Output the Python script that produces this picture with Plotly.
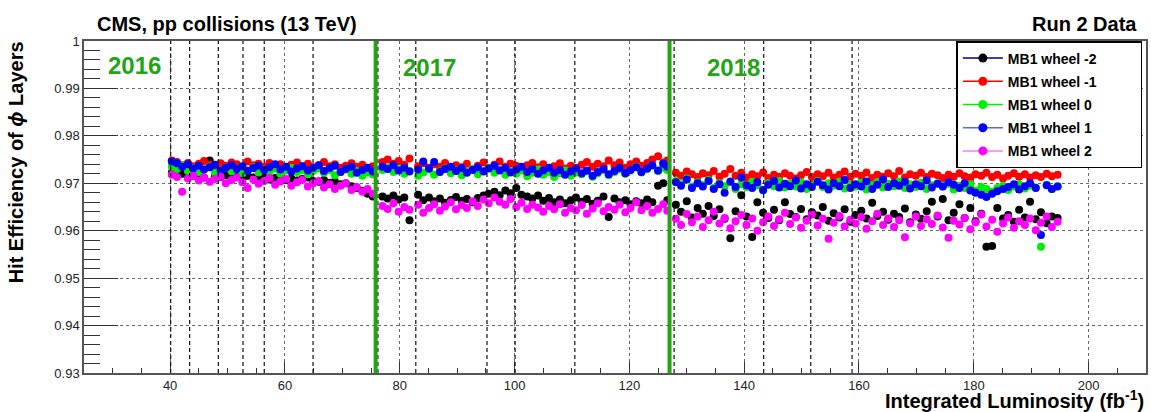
import plotly.graph_objects as go

# integrated luminosity of each run block (fb^-1), per data-taking year
lumi_2016 = [40.3, 41.2, 42.1, 43.1, 44.0, 45.0, 45.9, 46.9, 47.8, 48.8, 49.7, 50.7, 51.6, 52.6, 53.5,
             54.5, 55.4, 56.4, 57.3, 58.3, 59.2, 60.2, 61.1, 62.1, 63.0, 64.0, 64.9, 65.9, 66.8, 67.8,
             68.7, 69.7, 70.6, 71.6, 72.5, 73.5, 74.4, 75.3]
lumi_2017 = [77.0, 77.9, 78.9, 79.8, 80.8, 81.7, 83.2, 84.1, 85.1, 86.0, 87.0, 87.9, 88.9, 89.8, 90.8,
             91.7, 92.7, 93.6, 94.6, 95.5, 96.5, 97.4, 98.4, 99.3, 100.3, 101.2, 102.2, 103.1, 104.1,
             105.0, 106.0, 106.9, 107.9, 108.8, 109.8, 110.7, 111.7, 112.6, 113.6, 114.5, 115.5, 116.4,
             117.4, 118.3, 119.3, 120.2, 121.2, 122.1, 123.1, 124.0, 125.0, 125.9, 126.6]
lumi_2018 = [128.1, 129.0, 130.0, 130.9, 131.9, 132.8, 133.8, 134.7, 135.7, 136.6, 137.6, 138.5, 139.5,
             140.4, 141.4, 142.3, 143.3, 144.2, 145.2, 146.1, 147.1, 148.0, 149.0, 149.9, 150.9, 151.8,
             152.8, 153.7, 154.7, 155.6, 156.6, 157.5, 158.5, 159.4, 160.4, 161.3, 162.3, 163.2, 164.2,
             165.1, 166.1, 167.0, 168.0, 168.9, 169.9, 170.8, 171.8, 172.7, 173.7, 174.6, 175.6, 176.5,
             177.5, 178.4, 179.4, 180.3, 181.3, 182.2, 183.2, 184.1, 185.1, 186.0, 187.0, 187.9, 188.9,
             189.8, 190.8, 191.7, 192.7, 193.6, 194.6]

# MB1 wheel -2
wm2_2016 = [0.9722, 0.9718, 0.9720, 0.9714, 0.9716, 0.9719, 0.9712, 0.9748, 0.9715, 0.9713,
            0.9717, 0.9711, 0.9714, 0.9709, 0.9716, 0.9712, 0.9710, 0.9713, 0.9708, 0.9711,
            0.9714, 0.9707, 0.9710, 0.9706, 0.9709, 0.9712, 0.9705, 0.9703, 0.9707, 0.9701,
            0.9704, 0.9698, 0.9700, 0.9694, 0.9690, 0.9684, 0.9678, 0.9672]
wm2_2017 = [0.9672, 0.9668, 0.9674, 0.9666, 0.9670, 0.9622, 0.9676, 0.9664, 0.9670, 0.9662,
            0.9668, 0.9659, 0.9665, 0.9671, 0.9663, 0.9667, 0.9660, 0.9669, 0.9674, 0.9678,
            0.9682, 0.9675, 0.9685, 0.9679, 0.9690, 0.9676, 0.9672, 0.9668, 0.9674, 0.9663,
            0.9669, 0.9660, 0.9666, 0.9658, 0.9664, 0.9670, 0.9661, 0.9667, 0.9657, 0.9663,
            0.9672, 0.9629, 0.9668, 0.9660, 0.9664, 0.9656, 0.9662, 0.9658, 0.9666, 0.9660,
            0.9695, 0.9700, 0.9664]
wm2_2018 = [0.9655, 0.9640, 0.9662, 0.9628, 0.9648, 0.9636, 0.9652, 0.9631, 0.9645, 0.9625,
            0.9584, 0.9641, 0.9675, 0.9630, 0.9587, 0.9660, 0.9638, 0.9627, 0.9644, 0.9622,
            0.9660, 0.9635, 0.9629, 0.9646, 0.9624, 0.9639, 0.9632, 0.9650, 0.9621, 0.9637,
            0.9628, 0.9645, 0.9619, 0.9633, 0.9642, 0.9626, 0.9659, 0.9631, 0.9640, 0.9623,
            0.9636, 0.9629, 0.9647, 0.9618, 0.9634, 0.9625, 0.9641, 0.9661, 0.9630, 0.9667,
            0.9622, 0.9638, 0.9656, 0.9627, 0.9648, 0.9620, 0.9636, 0.9566, 0.9568, 0.9648,
            0.9626, 0.9633, 0.9619, 0.9644, 0.9628, 0.9661, 0.9624, 0.9639, 0.9616, 0.9630,
            0.9627]

# MB1 wheel -1
wm1_2016 = [0.9748, 0.9745, 0.9738, 0.9743, 0.9736, 0.9741, 0.9747, 0.9739, 0.9735, 0.9742,
            0.9737, 0.9744, 0.9740, 0.9734, 0.9746, 0.9738, 0.9741, 0.9735, 0.9743, 0.9737,
            0.9740, 0.9733, 0.9739, 0.9744, 0.9736, 0.9741, 0.9734, 0.9738, 0.9745, 0.9736,
            0.9740, 0.9733, 0.9737, 0.9742, 0.9735, 0.9739, 0.9732, 0.9736]
wm1_2017 = [0.9745, 0.9750, 0.9741, 0.9747, 0.9739, 0.9752, 0.9736, 0.9742, 0.9733, 0.9740,
            0.9735, 0.9743, 0.9731, 0.9738, 0.9734, 0.9741, 0.9730, 0.9737, 0.9744, 0.9733,
            0.9739, 0.9746, 0.9735, 0.9741, 0.9737, 0.9732, 0.9738, 0.9743, 0.9734, 0.9740,
            0.9729, 0.9736, 0.9742, 0.9731, 0.9737, 0.9733, 0.9739, 0.9745, 0.9735, 0.9741,
            0.9736, 0.9748, 0.9738, 0.9744, 0.9733, 0.9740, 0.9746, 0.9737, 0.9743, 0.9750,
            0.9757, 0.9744, 0.9748]
wm1_2018 = [0.9722, 0.9716, 0.9725, 0.9719, 0.9713, 0.9721, 0.9717, 0.9726, 0.9714, 0.9720,
            0.9730, 0.9716, 0.9722, 0.9712, 0.9719, 0.9715, 0.9723, 0.9711, 0.9718, 0.9714,
            0.9721, 0.9716, 0.9710, 0.9717, 0.9724, 0.9713, 0.9719, 0.9715, 0.9722, 0.9712,
            0.9718, 0.9725, 0.9714, 0.9720, 0.9716, 0.9723, 0.9711, 0.9718, 0.9714, 0.9721,
            0.9715, 0.9726, 0.9712, 0.9719, 0.9716, 0.9722, 0.9713, 0.9720, 0.9717, 0.9711,
            0.9718, 0.9714, 0.9721, 0.9715, 0.9712, 0.9719, 0.9716, 0.9722, 0.9713, 0.9718,
            0.9710, 0.9716, 0.9721, 0.9714, 0.9719, 0.9712, 0.9717, 0.9713, 0.9720, 0.9715,
            0.9718]

# MB1 wheel 0
w0_2016 = [0.9735, 0.9730, 0.9738, 0.9726, 0.9732, 0.9724, 0.9729, 0.9735, 0.9722, 0.9728,
           0.9733, 0.9725, 0.9730, 0.9721, 0.9727, 0.9734, 0.9723, 0.9729, 0.9725, 0.9731,
           0.9720, 0.9727, 0.9732, 0.9724, 0.9728, 0.9719, 0.9726, 0.9731, 0.9722, 0.9728,
           0.9717, 0.9724, 0.9729, 0.9720, 0.9726, 0.9716, 0.9723, 0.9719]
w0_2017 = [0.9728, 0.9733, 0.9724, 0.9730, 0.9720, 0.9726, 0.9716, 0.9723, 0.9729, 0.9718,
           0.9725, 0.9731, 0.9721, 0.9727, 0.9717, 0.9724, 0.9730, 0.9719, 0.9726, 0.9732,
           0.9722, 0.9728, 0.9718, 0.9725, 0.9720, 0.9727, 0.9715, 0.9722, 0.9729, 0.9718,
           0.9724, 0.9713, 0.9721, 0.9727, 0.9716, 0.9723, 0.9719, 0.9726, 0.9714, 0.9721,
           0.9728, 0.9717, 0.9724, 0.9730, 0.9720, 0.9727, 0.9735, 0.9723, 0.9730, 0.9737,
           0.9726, 0.9733, 0.9728]
w0_2018 = [0.9705, 0.9698, 0.9710, 0.9693, 0.9702, 0.9696, 0.9707, 0.9690, 0.9700, 0.9694,
           0.9704, 0.9688, 0.9698, 0.9692, 0.9703, 0.9696, 0.9685, 0.9700, 0.9694, 0.9705,
           0.9691, 0.9699, 0.9693, 0.9702, 0.9688, 0.9697, 0.9705, 0.9692, 0.9700, 0.9695,
           0.9703, 0.9689, 0.9697, 0.9693, 0.9701, 0.9687, 0.9696, 0.9702, 0.9691, 0.9699,
           0.9694, 0.9704, 0.9690, 0.9698, 0.9692, 0.9701, 0.9688, 0.9696, 0.9700, 0.9693,
           0.9699, 0.9687, 0.9695, 0.9690, 0.9698, 0.9684, 0.9692, 0.9688, 0.9682, 0.9690,
           0.9695, 0.9686, 0.9693, 0.9698, 0.9689, 0.9695, 0.9691, 0.9566, 0.9697, 0.9688,
           0.9694]

# MB1 wheel 1
w1_2016 = [0.9746, 0.9742, 0.9735, 0.9740, 0.9731, 0.9737, 0.9729, 0.9734, 0.9739, 0.9727,
           0.9733, 0.9738, 0.9730, 0.9736, 0.9726, 0.9732, 0.9737, 0.9728, 0.9734, 0.9740,
           0.9729, 0.9735, 0.9725, 0.9731, 0.9736, 0.9727, 0.9733, 0.9738, 0.9726, 0.9732,
           0.9737, 0.9724, 0.9730, 0.9735, 0.9722, 0.9728, 0.9733, 0.9725]
w1_2017 = [0.9735, 0.9730, 0.9738, 0.9727, 0.9733, 0.9725, 0.9729, 0.9746, 0.9731, 0.9745,
           0.9724, 0.9730, 0.9735, 0.9726, 0.9732, 0.9722, 0.9728, 0.9734, 0.9725, 0.9731,
           0.9737, 0.9727, 0.9733, 0.9723, 0.9729, 0.9735, 0.9724, 0.9730, 0.9720, 0.9727,
           0.9733, 0.9722, 0.9728, 0.9718, 0.9725, 0.9731, 0.9721, 0.9727, 0.9716, 0.9724,
           0.9730, 0.9719, 0.9726, 0.9732, 0.9721, 0.9728, 0.9734, 0.9724, 0.9731, 0.9738,
           0.9727, 0.9741, 0.9735]
w1_2018 = [0.9702, 0.9695, 0.9708, 0.9690, 0.9700, 0.9693, 0.9705, 0.9688, 0.9698, 0.9680,
           0.9703, 0.9692, 0.9712, 0.9696, 0.9690, 0.9702, 0.9686, 0.9697, 0.9705, 0.9691,
           0.9699, 0.9694, 0.9706, 0.9689, 0.9698, 0.9692, 0.9703, 0.9696, 0.9687, 0.9700,
           0.9694, 0.9707, 0.9690, 0.9698, 0.9693, 0.9704, 0.9688, 0.9697, 0.9708, 0.9692,
           0.9700, 0.9695, 0.9703, 0.9689, 0.9698, 0.9694, 0.9706, 0.9691, 0.9699, 0.9693,
           0.9702, 0.9697, 0.9690, 0.9700, 0.9685, 0.9680, 0.9676, 0.9671, 0.9678, 0.9683,
           0.9688, 0.9692, 0.9698, 0.9687, 0.9694, 0.9700, 0.9690, 0.9591, 0.9696, 0.9688,
           0.9693]

# MB1 wheel 2
w2_2016 = [0.9718, 0.9713, 0.9682, 0.9710, 0.9716, 0.9706, 0.9712, 0.9703, 0.9709, 0.9714,
           0.9700, 0.9707, 0.9712, 0.9702, 0.9690, 0.9708, 0.9699, 0.9705, 0.9711, 0.9697,
           0.9704, 0.9709, 0.9695, 0.9702, 0.9707, 0.9693, 0.9700, 0.9705, 0.9691, 0.9698,
           0.9688, 0.9695, 0.9700, 0.9686, 0.9692, 0.9682, 0.9688, 0.9678]
w2_2017 = [0.9652, 0.9646, 0.9658, 0.9640, 0.9650, 0.9644, 0.9655, 0.9638, 0.9648, 0.9656,
           0.9642, 0.9651, 0.9660, 0.9645, 0.9654, 0.9648, 0.9662, 0.9652, 0.9666, 0.9658,
           0.9670, 0.9661, 0.9655, 0.9667, 0.9650, 0.9659, 0.9646, 0.9655, 0.9649, 0.9640,
           0.9652, 0.9645, 0.9656, 0.9638, 0.9648, 0.9643, 0.9654, 0.9636, 0.9647, 0.9658,
           0.9641, 0.9650, 0.9644, 0.9655, 0.9639, 0.9648, 0.9660, 0.9643, 0.9652, 0.9638,
           0.9646, 0.9656, 0.9642]
w2_2018 = [0.9625, 0.9612, 0.9635, 0.9618, 0.9630, 0.9608, 0.9622, 0.9640, 0.9615, 0.9627,
           0.9605, 0.9620, 0.9633, 0.9612, 0.9626, 0.9600, 0.9618, 0.9630, 0.9610, 0.9624,
           0.9638, 0.9614, 0.9628, 0.9606, 0.9621, 0.9634, 0.9611, 0.9625, 0.9583, 0.9617,
           0.9631, 0.9609, 0.9623, 0.9615, 0.9629, 0.9604, 0.9620, 0.9636, 0.9612, 0.9626,
           0.9608, 0.9622, 0.9586, 0.9616, 0.9630, 0.9610, 0.9624, 0.9614, 0.9632, 0.9607,
           0.9585, 0.9621, 0.9613, 0.9627, 0.9603, 0.9618, 0.9634, 0.9609, 0.9623, 0.9598,
           0.9615, 0.9628, 0.9606, 0.9620, 0.9612, 0.9626, 0.9601, 0.9617, 0.9630, 0.9608,
           0.9619]

eff_error = 0.0005

# run-period boundaries (dashed) and year boundaries (green)
run_boundaries = [40.1, 43.4, 48.4, 52.7, 56.4, 64.9, 76.2, 82.8, 95.2, 100.1, 110.5, 127.8,
                  143.4, 151.6, 158.8]
year_boundaries = [75.8, 127.0]
year_labels = ["2016", "2017", "2018"]
year_label_x = [33.8, 85.2, 138.1]
year_label_y = [0.9948, 0.9945, 0.9944]

lumi = lumi_2016 + lumi_2017 + lumi_2018
series = [
    ("MB1 wheel -2", wm2_2016 + wm2_2017 + wm2_2018, "#000000", "#000080"),
    ("MB1 wheel -1", wm1_2016 + wm1_2017 + wm1_2018, "#ff0000", "#ff0000"),
    ("MB1 wheel 0", w0_2016 + w0_2017 + w0_2018, "#00ee00", "#00ee00"),
    ("MB1 wheel 1", w1_2016 + w1_2017 + w1_2018, "#0000ff", "#5566ff"),
    ("MB1 wheel 2", w2_2016 + w2_2017 + w2_2018, "#ff00ff", "#ff77ff"),
]

FONT = "Liberation Sans, Arial, sans-serif"
GREEN = "#22a514"

fig = go.Figure()

for name, eff, mcol, lcol in series:
    n = min(len(lumi), len(eff))
    fig.add_trace(go.Scatter(
        x=lumi[:n], y=eff[:n],
        mode="markers",
        marker=dict(color=mcol, size=8),
        error_y=dict(type="constant", value=eff_error, color=mcol, thickness=1.2, width=1.5),
        showlegend=False,
        hoverinfo="x+y",
    ))

for name, eff, mcol, lcol in series:
    fig.add_trace(go.Scatter(
        x=[None], y=[None],
        mode="lines+markers",
        name="<b>" + name + "</b>" + "\u00a0" * 10,
        legendgroup=name,
        line=dict(color=lcol, width=1.5),
        marker=dict(color=mcol, size=9),
    ))

shapes = []
for xb in run_boundaries:
    shapes.append(dict(type="line", xref="x", yref="paper", x0=xb, x1=xb, y0=0, y1=1,
                       line=dict(color="#111111", width=1.2, dash="4px,3px")))
for xb in year_boundaries:
    shapes.append(dict(type="line", xref="x", yref="paper", x0=xb, x1=xb, y0=0, y1=1,
                       line=dict(color=GREEN, width=4)))

annotations = []
for lab, lx, ly in zip(year_labels, year_label_x, year_label_y):
    annotations.append(dict(text="<b>" + lab + "</b>", x=lx, y=ly, xref="x", yref="y",
                            showarrow=False, font=dict(family=FONT, size=24, color=GREEN)))

annotations += [
    dict(text="<b>CMS, pp collisions (13 TeV)</b>", xref="paper", yref="paper",
         x=(95 - 84) / 1064, y=1.05, xanchor="left", yanchor="middle", showarrow=False,
         font=dict(family=FONT, size=20, color="black")),
    dict(text="<b>Run 2 Data</b>", xref="paper", yref="paper",
         x=(1141 - 84) / 1064, y=1.05, xanchor="right", yanchor="middle", showarrow=False,
         font=dict(family=FONT, size=20, color="black")),
    dict(text="<b>Integrated Luminosity (fb<sup>-1</sup>)</b>", xref="paper", yref="paper",
         x=1.0, y=-0.079, xanchor="right", yanchor="middle", showarrow=False,
         font=dict(family=FONT, size=20, color="black")),
    dict(text="<b>Hit Efficiency of <i>ϕ</i> Layers</b>", xref="paper", yref="paper",
         x=-0.064, y=1.005, xanchor="center", yanchor="top", textangle=-90, showarrow=False,
         font=dict(family=FONT, size=20, color="black")),
]

fig.update_layout(
    width=1151, height=412,
    margin=dict(l=84, r=3, t=41, b=39),
    plot_bgcolor="white", paper_bgcolor="white",
    font=dict(family=FONT, size=13, color="#222222"),
    shapes=shapes,
    annotations=annotations,
    showlegend=True,
    legend=dict(
        x=(958 - 84) / 1064, y=1.0, xanchor="left", yanchor="top",
        bgcolor="white", bordercolor="black", borderwidth=1.5,
        font=dict(family=FONT, size=14, color="black"),
        traceorder="grouped", tracegroupgap=2,
        itemwidth=40,
    ),
    xaxis=dict(
        range=[25, 210], tick0=0, dtick=20,
        ticks="inside", ticklen=11, tickwidth=1, tickcolor="#333333",
        minor=dict(dtick=5, ticks="inside", ticklen=5.5, tickcolor="#333333", showgrid=False),
        showgrid=True, gridcolor="#666666", griddash="dot", gridwidth=1,
        showline=True, linecolor="#555555", linewidth=1.5, mirror=True,
        zeroline=False,
        tickfont=dict(family=FONT, size=13, color="#222222"),
    ),
    yaxis=dict(
        range=[0.93, 1.0], tick0=0.93, dtick=0.01,
        ticks="inside", ticklen=34, tickwidth=1, tickcolor="#333333",
        minor=dict(dtick=0.002, ticks="inside", ticklen=16, tickcolor="#333333", showgrid=False),
        showgrid=True, gridcolor="#666666", griddash="dot", gridwidth=1,
        showline=True, linecolor="#555555", linewidth=1.5, mirror=True,
        zeroline=False,
        tickfont=dict(family=FONT, size=13, color="#222222"),
    ),
)

# drop the default page margin so the figure sits at the window's top-left corner
fig.write_html("out.html", config={"displayModeBar": False},
               post_script="document.body.style.margin='0';document.body.style.overflow='hidden';")
